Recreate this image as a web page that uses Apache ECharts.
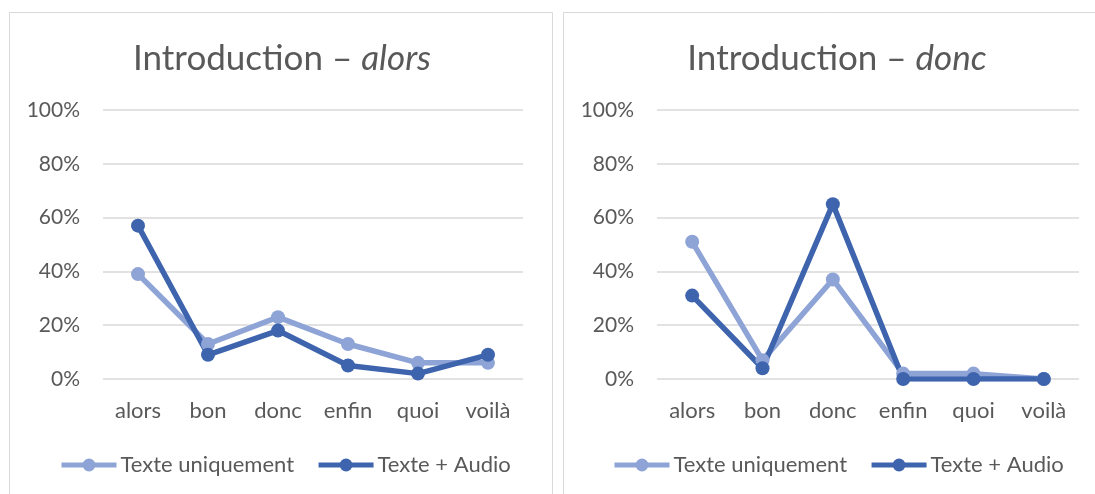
<!DOCTYPE html>
<html>
<head>
<meta charset="utf-8">
<script src="https://cdn.jsdelivr.net/npm/echarts@6/dist/echarts.min.js"></script>
<style>
  html, body { margin: 0; padding: 0; background: #ffffff; }
  #chart { width: 1095px; height: 494px; }
</style>
</head>
<body>
<div id="chart"></div>
<script>
// Discourse markers shown on the x axis
const categories = ['alors', 'bon', 'donc', 'enfin', 'quoi', 'voilà'];
const seriesNames = ['Texte uniquement', 'Texte + Audio'];
const yTicks = [0, 20, 40, 60, 80, 100];

// Panel 1: Introduction – alors (percentages)
const alorsTexte = [39, 13, 23, 13, 6, 6];
const alorsTexteAudio = [57, 9, 18, 5, 2, 9];

// Panel 2: Introduction – donc (percentages)
const doncTexte = [51, 7, 37, 2, 2, 0];
const doncTexteAudio = [31, 4, 65, 0, 0, 0];

const panelTitles = ['alors', 'donc'];

const FONT = 'Lato, "Open Sans", sans-serif';
const TEXT = '#595959';
const GRID = '#d9d9d9';
const LIGHT = '#8fa4d6';
const DARK = '#3e64ae';

const chart = echarts.init(document.getElementById('chart'), null, { renderer: 'canvas' });

const panels = [
  { left: 103, width: 420, cx: 277, legendLeft: 59, box: { x: 9.5, width: 543 } },
  { left: 657, width: 422, cx: 832, legendLeft: 612, box: { x: 563.5, width: 545 } }
];

function makeTitle(word, cx) {
  return {
    text: '{a|Introduction – }{b|' + word + '}',
    left: cx,
    top: 36,
    textAlign: 'center',
    textStyle: {
      rich: {
        a: { fontFamily: FONT, fontSize: 35, fontWeight: 'normal', color: TEXT },
        b: { fontFamily: FONT, fontSize: 35, fontWeight: 'normal', fontStyle: 'italic', color: TEXT }
      }
    }
  };
}

function makeSeries(name, data, idx, color) {
  return {
    name: name,
    type: 'line',
    xAxisIndex: idx,
    yAxisIndex: idx,
    data: data,
    symbol: 'circle',
    symbolSize: 14,
    lineStyle: { color: color, width: 5.5 },
    itemStyle: { color: color },
    emphasis: { disabled: true },
    animation: false
  };
}

const option = {
  backgroundColor: '#ffffff',
  animation: false,
  title: [makeTitle(panelTitles[0], panels[0].cx), makeTitle(panelTitles[1], panels[1].cx)],
  legend: panels.map(p => ({
    data: seriesNames,
    left: p.legendLeft,
    top: 454,
    width: 500,
    padding: 0,
    orient: 'horizontal',
    itemWidth: 55,
    itemHeight: 16,
    itemGap: 22,
    lineStyle: { width: 5 },
    textStyle: { fontFamily: FONT, fontSize: 22, color: TEXT, padding: [0, 0, 0, -1] }
  })),
  graphic: panels.map(p => ({
    type: 'rect',
    shape: { x: p.box.x, y: 12.5, width: p.box.width, height: 500 },
    style: { fill: 'none', stroke: GRID, lineWidth: 1 },
    silent: true
  })),
  grid: panels.map(p => ({
    left: p.left,
    width: p.width,
    top: 110,
    height: 269,
    containLabel: false
  })),
  xAxis: panels.map((p, i) => ({
    type: 'category',
    gridIndex: i,
    data: categories,
    boundaryGap: true,
    axisLine: { show: false },
    axisTick: { show: false },
    axisLabel: { fontFamily: FONT, fontSize: 22, color: TEXT, margin: 21 }
  })),
  yAxis: panels.map((p, i) => ({
    type: 'value',
    gridIndex: i,
    min: yTicks[0],
    max: yTicks[yTicks.length - 1],
    interval: yTicks[1] - yTicks[0],
    axisLine: { show: false },
    axisTick: { show: false },
    splitLine: { lineStyle: { color: GRID, width: 1.5 } },
    axisLabel: { fontFamily: FONT, fontSize: 21, color: TEXT, margin: 23, formatter: '{value}%' }
  })),
  series: [
    makeSeries(seriesNames[0], alorsTexte, 0, LIGHT),
    makeSeries(seriesNames[1], alorsTexteAudio, 0, DARK),
    makeSeries(seriesNames[0], doncTexte, 1, LIGHT),
    makeSeries(seriesNames[1], doncTexteAudio, 1, DARK)
  ]
};

chart.setOption(option);
</script>
</body>
</html>
